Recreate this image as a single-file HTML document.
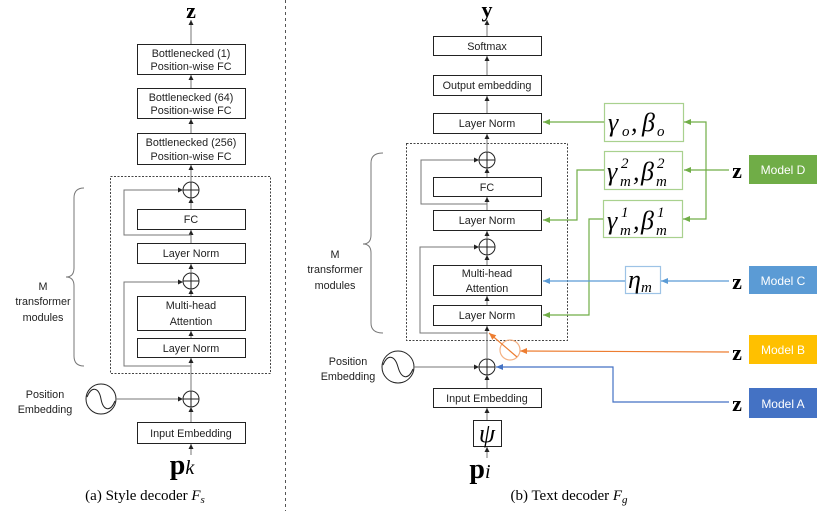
<!DOCTYPE html>
<html><head><meta charset="utf-8"><style>
html,body{margin:0;padding:0;background:#fff}
svg{display:block}
text{font-family:"Liberation Sans",sans-serif;fill:#222}
.b{font-size:10.8px;text-anchor:middle}
.m{font-family:"Liberation Serif",serif;fill:#000}
.g{font-family:"Liberation Serif",serif;fill:#000;font-style:italic;font-size:26px}
.s{font-family:"Liberation Serif",serif;fill:#000;font-style:italic;font-size:15px}
</style></head><body>
<svg width="822" height="511" viewBox="0 0 822 511" xmlns="http://www.w3.org/2000/svg">
<defs>
<marker id="ak" markerWidth="6" markerHeight="6" refX="5" refY="3" orient="auto" markerUnits="userSpaceOnUse"><path d="M0,0.5 L5,3 L0,5.5z" fill="#222"/></marker>
<marker id="ag" markerWidth="8" markerHeight="8" refX="7" refY="4" orient="auto" markerUnits="userSpaceOnUse"><path d="M0,1 L7,4 L0,7z" fill="#70ad47"/></marker>
<marker id="ab" markerWidth="8" markerHeight="8" refX="7" refY="4" orient="auto" markerUnits="userSpaceOnUse"><path d="M0,1 L7,4 L0,7z" fill="#5b9bd5"/></marker>
<marker id="aa" markerWidth="8" markerHeight="8" refX="7" refY="4" orient="auto" markerUnits="userSpaceOnUse"><path d="M0,1 L7,4 L0,7z" fill="#4472c4"/></marker>
<marker id="ao" markerWidth="8" markerHeight="8" refX="7" refY="4" orient="auto" markerUnits="userSpaceOnUse"><path d="M0,1 L7,4 L0,7z" fill="#ed7d31"/></marker>
</defs>
<g stroke="#222" stroke-width="1" fill="none">
<line x1="285.5" y1="0" x2="285.5" y2="511" stroke-dasharray="3,3" stroke="#555"/>
<rect x="137.5" y="44.5" width="108" height="30" fill="#fff"/>
<rect x="137.5" y="88.5" width="108" height="30"/>
<rect x="137.5" y="133.5" width="108" height="31"/>
<rect x="110.5" y="176.5" width="160" height="197" stroke-dasharray="2,1.5" stroke="#444"/>
<circle cx="191" cy="190" r="8"/><path d="M183,190h16M191,182v16"/>
<rect x="137.5" y="209.5" width="108" height="20"/>
<rect x="137.5" y="243.5" width="108" height="20"/>
<circle cx="191" cy="281" r="8"/><path d="M183,281h16M191,273v16"/>
<rect x="137.5" y="296.5" width="108" height="34"/>
<rect x="137.5" y="338.5" width="108" height="19"/>
<rect x="137.5" y="422.5" width="108" height="21"/>
<circle cx="191" cy="399" r="8"/><path d="M183,399h16M191,391v16"/>
<circle cx="101" cy="399" r="15"/><path d="M87,397 C92,385 99,388 101,399 C103,410 110,413 115,401"/>
<g stroke="#777">
<line x1="191" y1="44" x2="191" y2="20" marker-end="url(#ak)"/>
<line x1="191" y1="88" x2="191" y2="75" marker-end="url(#ak)"/>
<line x1="191" y1="133" x2="191" y2="119" marker-end="url(#ak)"/>
<line x1="191" y1="182" x2="191" y2="165" marker-end="url(#ak)"/>
<line x1="191" y1="209" x2="191" y2="198" marker-end="url(#ak)"/>
<line x1="191" y1="243" x2="191" y2="230" marker-end="url(#ak)"/>
<line x1="191" y1="273" x2="191" y2="264" marker-end="url(#ak)"/>
<line x1="191" y1="296" x2="191" y2="289" marker-end="url(#ak)"/>
<line x1="191" y1="338" x2="191" y2="331" marker-end="url(#ak)"/>
<line x1="191" y1="391" x2="191" y2="358" marker-end="url(#ak)"/>
<line x1="191" y1="422" x2="191" y2="407" marker-end="url(#ak)"/>
<line x1="191" y1="455" x2="191" y2="444" marker-end="url(#ak)"/>
<path d="M191,235H124V190H183" marker-end="url(#ak)"/>
<path d="M191,366H124V282H183" marker-end="url(#ak)"/>
<line x1="116" y1="399" x2="183" y2="399" marker-end="url(#ak)"/>
<path d="M84,188 Q74,188 74,198 V268 Q74,277 66,277 Q74,277 74,286 V356 Q74,366 84,366"/>
</g>
<rect x="433.5" y="36.5" width="108" height="19"/>
<rect x="433.5" y="75.5" width="108" height="20"/>
<rect x="433.5" y="113.5" width="108" height="20"/>
<rect x="406.5" y="143.5" width="161" height="197" stroke-dasharray="2,1.5" stroke="#444"/>
<circle cx="487" cy="160" r="8"/><path d="M479,160h16M487,152v16"/>
<rect x="433.5" y="177.5" width="108" height="19"/>
<rect x="433.5" y="210.5" width="108" height="20"/>
<circle cx="487" cy="247" r="8"/><path d="M479,247h16M487,239v16"/>
<rect x="433.5" y="265.5" width="108" height="30"/>
<rect x="433.5" y="305.5" width="108" height="20"/>
<circle cx="487" cy="367" r="8"/><path d="M479,367h16M487,359v16"/>
<circle cx="398" cy="367" r="16"/><path d="M383,365 C388,353 395,356 398,367 C401,378 408,381 413,369"/>
<rect x="433.5" y="388.5" width="108" height="19"/>
<rect x="473.5" y="420.5" width="28" height="26"/>
<g stroke="#777">
<line x1="487" y1="36" x2="487" y2="20" marker-end="url(#ak)"/>
<line x1="487" y1="75" x2="487" y2="56" marker-end="url(#ak)"/>
<line x1="487" y1="113" x2="487" y2="96" marker-end="url(#ak)"/>
<line x1="487" y1="152" x2="487" y2="134" marker-end="url(#ak)"/>
<line x1="487" y1="177" x2="487" y2="168" marker-end="url(#ak)"/>
<line x1="487" y1="210" x2="487" y2="197" marker-end="url(#ak)"/>
<line x1="487" y1="239" x2="487" y2="231" marker-end="url(#ak)"/>
<line x1="487" y1="265" x2="487" y2="255" marker-end="url(#ak)"/>
<line x1="487" y1="305" x2="487" y2="296" marker-end="url(#ak)"/>
<line x1="487" y1="359" x2="487" y2="326" marker-end="url(#ak)"/>
<line x1="487" y1="388" x2="487" y2="375" marker-end="url(#ak)"/>
<line x1="487" y1="420" x2="487" y2="408" marker-end="url(#ak)"/>
<line x1="487" y1="458" x2="487" y2="447" marker-end="url(#ak)"/>
<path d="M487,204H421V160H479" marker-end="url(#ak)"/>
<path d="M487,333H420V247H479" marker-end="url(#ak)"/>
<line x1="414" y1="367" x2="479" y2="367" marker-end="url(#ak)"/>
<path d="M383,153 Q371,153 371,163 V235 Q371,244 363,244 Q371,244 371,253 V323 Q371,333 383,333"/>
</g>
</g>
<g fill="none" stroke-width="1.2">
<rect x="604.5" y="103.5" width="79" height="38" stroke="#a9d18e" fill="#fff"/>
<rect x="604.5" y="151.5" width="78" height="38" stroke="#a9d18e"/>
<rect x="603.5" y="200.5" width="79" height="37" stroke="#a9d18e"/>
<rect x="625.5" y="266.5" width="35" height="27" stroke="#9dc3e6"/>
<g stroke="#70ad47">
<line x1="604" y1="122" x2="543" y2="122" marker-end="url(#ag)"/>
<path d="M604,170H577V220H543" marker-end="url(#ag)"/>
<path d="M603,219H589V315H543" marker-end="url(#ag)"/>
<line x1="729" y1="170" x2="684" y2="170" marker-end="url(#ag)"/>
<path d="M706,170V122H684" marker-end="url(#ag)"/>
<path d="M706,170V219H683" marker-end="url(#ag)"/>
</g>
<g stroke="#5b9bd5">
<line x1="729" y1="281" x2="661" y2="281" marker-end="url(#ab)"/>
<line x1="625" y1="281" x2="543" y2="281" marker-end="url(#ab)"/>
</g>
<g stroke="#ed7d31">
<line x1="729" y1="352" x2="520" y2="351" marker-end="url(#ao)"/>
<circle cx="510" cy="350" r="10" stroke="#f4b183"/>
<line x1="517" y1="357" x2="489" y2="333" marker-end="url(#ao)"/>
</g>
<path d="M729,402H613V367H496" stroke="#4472c4" marker-end="url(#aa)"/>
</g>
<rect x="749" y="155" width="68" height="29" fill="#70ad47"/>
<rect x="749" y="266" width="68" height="28" fill="#5b9bd5"/>
<rect x="749" y="335" width="68" height="29" fill="#ffc000"/>
<rect x="749" y="388" width="68" height="30" fill="#4472c4"/>
<g font-size="12" text-anchor="middle">
<text x="783" y="174" style="fill:#fff">Model D</text>
<text x="783" y="285" style="fill:#fff">Model C</text>
<text x="783" y="354" style="fill:#fff">Model B</text>
<text x="783" y="408" style="fill:#fff">Model A</text>
</g>
<g font-weight="bold" font-size="22" text-anchor="middle">
<text class="m" x="737" y="178">z</text>
<text class="m" x="737" y="289">z</text>
<text class="m" x="737" y="360">z</text>
<text class="m" x="737" y="411">z</text>
<text class="m" x="191" y="18">z</text>
<text class="m" x="487" y="17">y</text>
</g>
<text class="g" x="608" y="131">γ</text><text class="s" x="622" y="136">o</text><text class="g" x="631" y="131">,</text><text class="g" x="642" y="131">β</text><text class="s" x="657" y="136">o</text>
<text class="g" x="607" y="180">γ</text><text class="s" x="621" y="168">2</text><text class="s" x="620" y="186">m</text><text class="g" x="633" y="180">,</text><text class="g" x="641" y="180">β</text><text class="s" x="657" y="168">2</text><text class="s" x="656" y="186">m</text>
<text class="g" x="607" y="229">γ</text><text class="s" x="621" y="217">1</text><text class="s" x="620" y="235">m</text><text class="g" x="633" y="229">,</text><text class="g" x="641" y="229">β</text><text class="s" x="657" y="217">1</text><text class="s" x="656" y="235">m</text>
<text class="g" x="628" y="288">η</text><text class="s" x="641" y="292">m</text>
<text class="g" x="487" y="442" text-anchor="middle">ψ</text>
<text class="m" x="182" y="474" font-size="28" font-weight="bold" text-anchor="middle">p<tspan font-weight="normal" font-style="italic" font-size="20">k</tspan></text>
<text class="m" x="480" y="478" font-size="28" font-weight="bold" text-anchor="middle">p<tspan font-weight="normal" font-style="italic" font-size="20">i</tspan></text>
<text class="m" x="145" y="500" font-size="15" text-anchor="middle">(a) Style decoder <tspan font-style="italic">F<tspan font-size="11" dy="3">s</tspan></tspan></text>
<text class="m" x="569" y="500" font-size="15" text-anchor="middle">(b) Text decoder <tspan font-style="italic">F<tspan font-size="11" dy="3">g</tspan></tspan></text>
<g>
<text class="b" x="191" y="57">Bottlenecked (1)</text><text class="b" x="191" y="70">Position-wise FC</text>
<text class="b" x="191" y="101">Bottlenecked (64)</text><text class="b" x="191" y="114">Position-wise FC</text>
<text class="b" x="191" y="146">Bottlenecked (256)</text><text class="b" x="191" y="160">Position-wise FC</text>
<text class="b" x="191" y="223">FC</text>
<text class="b" x="191" y="257">Layer Norm</text>
<text class="b" x="191" y="309">Multi-head</text><text class="b" x="191" y="325">Attention</text>
<text class="b" x="191" y="352">Layer Norm</text>
<text class="b" x="191" y="437">Input Embedding</text>
<text class="b" x="43" y="290">M</text><text class="b" x="43" y="305">transformer</text><text class="b" x="43" y="321">modules</text>
<text class="b" x="45" y="398">Position</text><text class="b" x="45" y="413">Embedding</text>
<text class="b" x="487" y="50">Softmax</text>
<text class="b" x="487" y="89">Output embedding</text>
<text class="b" x="487" y="127">Layer Norm</text>
<text class="b" x="487" y="191">FC</text>
<text class="b" x="487" y="224">Layer Norm</text>
<text class="b" x="487" y="277">Multi-head</text><text class="b" x="487" y="292">Attention</text>
<text class="b" x="487" y="319">Layer Norm</text>
<text class="b" x="487" y="402">Input Embedding</text>
<text class="b" x="335" y="258">M</text><text class="b" x="335" y="273">transformer</text><text class="b" x="335" y="289">modules</text>
<text class="b" x="348" y="365">Position</text><text class="b" x="348" y="380">Embedding</text>
</g>
</svg>
</body></html>
